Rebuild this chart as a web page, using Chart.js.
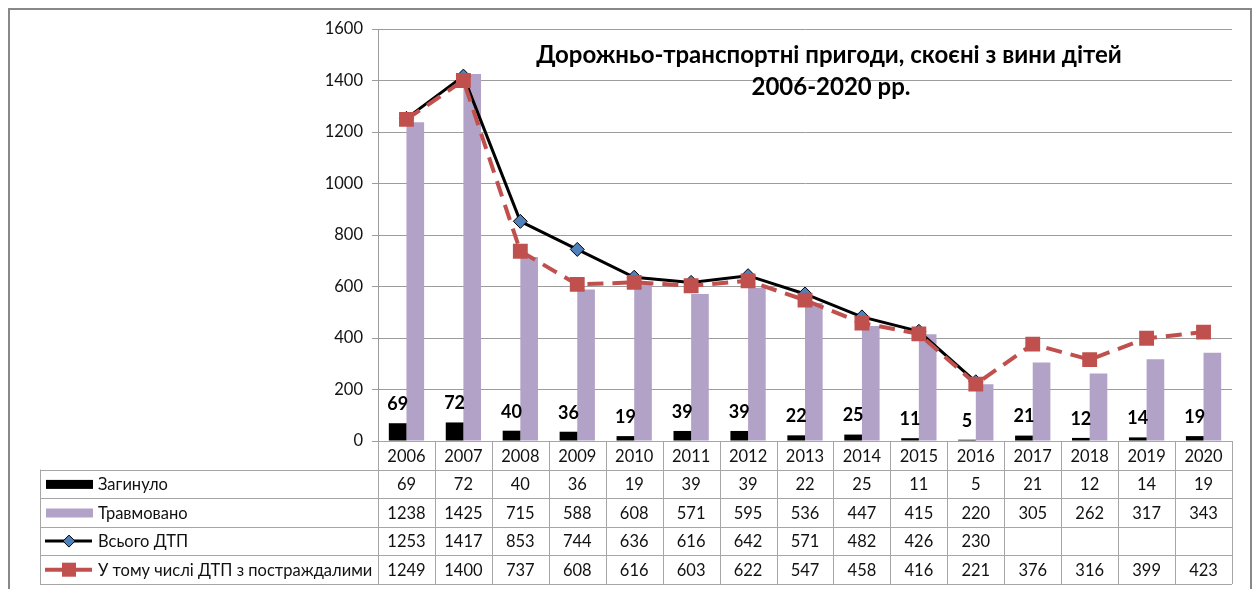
<!DOCTYPE html>
<html lang="uk">
  <head>
    <meta charset="UTF-8" />
    <title>ДТП з вини дітей 2006-2020</title>
    <script src="https://cdn.jsdelivr.net/npm/chart.js@4.4.1/dist/chart.umd.min.js"></script>
    <style>
      body {
        margin: 0;
        background: #fff;
      }
      .wrap {
        position: relative;
        width: 1256px;
        height: 589px;
      }
    </style>
  </head>
  <body>
    <div class="wrap">
      <canvas id="dtpChart"></canvas>
    </div>

    <script>
      const years = ["2006", "2007", "2008", "2009", "2010", "2011", "2012", "2013", "2014", "2015", "2016", "2017", "2018", "2019", "2020"];
      const killed = [69, 72, 40, 36, 19, 39, 39, 22, 25, 11, 5, 21, 12, 14, 19];
      const injured = [1238, 1425, 715, 588, 608, 571, 595, 536, 447, 415, 220, 305, 262, 317, 343];
      const totalDtp = [1253, 1417, 853, 744, 636, 616, 642, 571, 482, 426, 230, null, null, null, null];
      const withVictims = [1249, 1400, 737, 608, 616, 603, 622, 547, 458, 416, 221, 376, 316, 399, 423];
      const seriesNames = ["Загинуло", "Травмовано", "Всього ДТП", "У тому числі ДТП з постраждалими"];
      const titleLines = ["Дорожньо-транспортні пригоди, скоєні з вини дітей", "2006-2020 рр."];

      const FONT = "Lato, 'DejaVu Sans', sans-serif";
      const PURPLE = "#b3a2c7";
      const RED = "#c0504d";
      const GRID = "#9c9c9c";

      // frame, title, labels over black bars and the data table with legend keys
      const extrasPlugin = {
        id: "extras",
        beforeDraw(chart) {
          const ctx = chart.ctx;
          ctx.save();
          ctx.strokeStyle = "#888";
          ctx.lineWidth = 2;
          ctx.strokeRect(9, 9, 1242, 600);
          ctx.restore();
        },
        afterDatasetsDraw(chart) {
          const ctx = chart.ctx;
          ctx.save();
          // values above "Загинуло" bars
          const meta = chart.getDatasetMeta(0);
          ctx.font = "bold 18px " + FONT;
          ctx.fillStyle = "#000";
          ctx.textAlign = "center";
          ctx.textBaseline = "bottom";
          meta.data.forEach((bar, i) => {
            ctx.fillText(String(killed[i]), bar.x, bar.y - 10);
          });

          // title
          ctx.font = "bold 24px " + FONT;
          ctx.textBaseline = "middle";
          ctx.fillText(titleLines[0], 829, 55);
          ctx.fillText(titleLines[1], 831, 87);
          ctx.restore();
        },
        afterDraw(chart) {
          const ctx = chart.ctx;
          const area = chart.chartArea;
          const xs = chart.scales.x;
          const n = years.length;
          const colW = (area.right - area.left) / n;
          const top = area.bottom;
          const rowH = 28.6;
          const labelLeft = 40;
          ctx.save();
          ctx.strokeStyle = "#a6a6a6";
          ctx.lineWidth = 1;
          ctx.beginPath();
          // horizontal lines
          for (let r = 0; r <= 5; r++) {
            const y = Math.round(top + r * rowH) + 0.5;
            ctx.moveTo(r === 0 ? area.left : labelLeft, y);
            ctx.lineTo(area.right, y);
          }
          // vertical lines
          for (let c = 0; c <= n; c++) {
            const x = Math.round(area.left + c * colW) + 0.5;
            ctx.moveTo(x, top);
            ctx.lineTo(x, top + 5 * rowH);
          }
          ctx.moveTo(labelLeft + 0.5, top + rowH);
          ctx.lineTo(labelLeft + 0.5, top + 5 * rowH);
          ctx.stroke();

          ctx.font = "16.5px " + FONT;
          ctx.fillStyle = "#111";
          ctx.textAlign = "center";
          ctx.textBaseline = "middle";
          const rows = [years, killed, injured, totalDtp, withVictims];
          rows.forEach((vals, r) => {
            const cy = top + r * rowH + rowH / 2 + 1;
            vals.forEach((v, i) => {
              if (v === null) return;
              ctx.fillText(String(v), xs.getPixelForValue(i), cy);
            });
          });

          // legend keys and names
          ctx.textAlign = "left";
          seriesNames.forEach((name, k) => {
            const cy = top + (k + 1) * rowH + rowH / 2;
            ctx.fillStyle = "#111";
            ctx.fillText(name, 98, cy + 1);
            if (k === 0 || k === 1) {
              ctx.fillStyle = k === 0 ? "#000" : PURPLE;
              ctx.fillRect(46, cy - 4, 47, 9);
            } else if (k === 2) {
              ctx.strokeStyle = "#000";
              ctx.lineWidth = 3;
              ctx.beginPath();
              ctx.moveTo(45, cy);
              ctx.lineTo(92, cy);
              ctx.stroke();
              ctx.fillStyle = "#4f81bd";
              ctx.lineWidth = 1;
              ctx.beginPath();
              ctx.moveTo(69, cy - 6);
              ctx.lineTo(75, cy);
              ctx.lineTo(69, cy + 6);
              ctx.lineTo(63, cy);
              ctx.closePath();
              ctx.fill();
              ctx.stroke();
            } else {
              ctx.strokeStyle = RED;
              ctx.lineWidth = 4;
              ctx.beginPath();
              ctx.moveTo(45, cy);
              ctx.lineTo(92, cy);
              ctx.stroke();
              ctx.fillStyle = RED;
              ctx.fillRect(62, cy - 7, 14, 14);
            }
          });
          ctx.restore();
        },
      };

      const ctx = document.getElementById("dtpChart").getContext("2d");
      const chart = new Chart(ctx, {
        type: "bar",
        data: {
          labels: years,
          datasets: [
            {
              label: seriesNames[0],
              data: killed,
              backgroundColor: "#000",
              categoryPercentage: 0.62,
              barPercentage: 1,
              order: 3,
            },
            {
              label: seriesNames[1],
              data: injured,
              backgroundColor: PURPLE,
              categoryPercentage: 0.62,
              barPercentage: 1,
              order: 3,
            },
            {
              type: "line",
              label: seriesNames[2],
              data: totalDtp,
              borderColor: "#000",
              borderWidth: 3,
              pointStyle: "rectRot",
              pointRadius: 7,
              pointBackgroundColor: "#4f81bd",
              pointBorderColor: "#000",
              pointBorderWidth: 1,
              spanGaps: false,
              order: 2,
            },
            {
              type: "line",
              label: seriesNames[3],
              data: withVictims,
              borderColor: RED,
              borderWidth: 4,
              borderDash: [16, 9],
              pointStyle: "rect",
              pointRadius: 10.5,
              pointBackgroundColor: RED,
              pointBorderColor: RED,
              pointBorderWidth: 0,
              order: 1,
            },
          ],
        },
        options: {
          responsive: true,
          maintainAspectRatio: false,
          animation: false,
          layout: {
            padding: { left: 0, top: 29, right: 24, bottom: 148 },
          },
          plugins: {
            legend: { display: false },
            title: { display: false },
            tooltip: { enabled: false },
          },
          scales: {
            x: {
              display: false,
            },
            y: {
              min: 0,
              max: 1600,
              afterFit(scale) {
                scale.width = 378;
              },
              ticks: {
                stepSize: 200,
                color: "#111",
                padding: 9,
                font: { family: FONT, size: 16.5 },
                callback: (v) => String(v),
              },
              grid: {
                color: GRID,
                tickLength: 6,
              },
              border: { color: GRID },
            },
          },
        },
        plugins: [extrasPlugin],
      });
    </script>
  </body>
</html>
